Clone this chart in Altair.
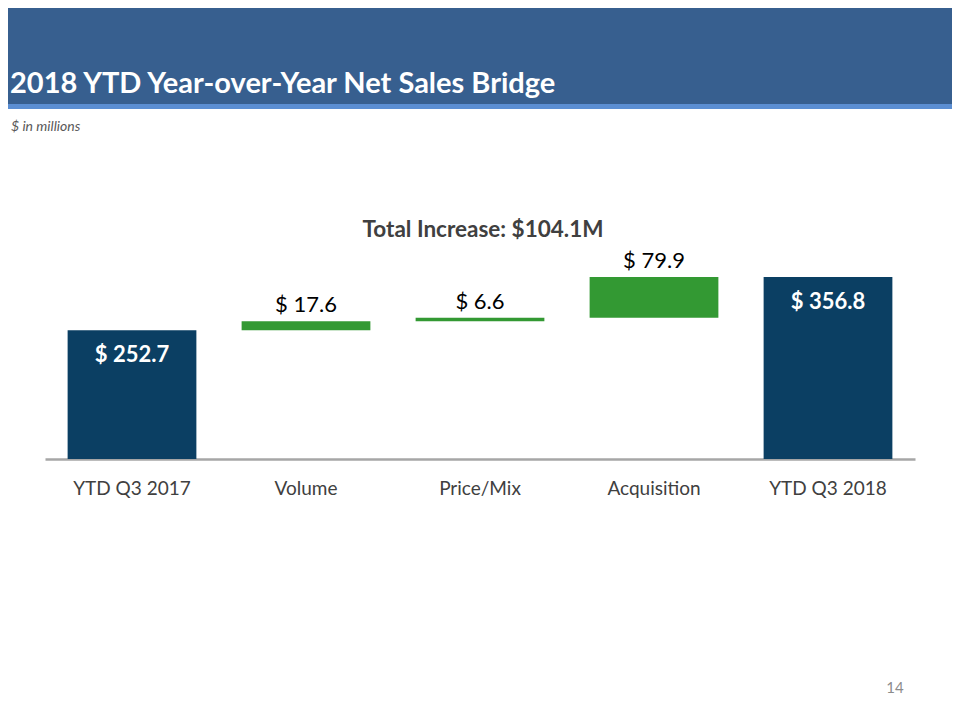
import altair as alt
import pandas as pd

# ---- data ----
categories = ["YTD Q3 2017", "Volume", "Price/Mix", "Acquisition", "YTD Q3 2018"]
amounts = [252.7, 17.6, 6.6, 79.9, 356.8]
kinds = ["total", "step", "step", "step", "total"]
labels = ["$ 252.7", "$ 17.6", "$ 6.6", "$ 79.9", "$ 356.8"]
title_text = "2018 YTD Year-over-Year Net Sales Bridge"
subtitle_text = "$ in millions"
increase_text = "Total Increase: $104.1M"
page_number = "14"

base_vals, top_vals = [], []
running = 0.0
for a, k in zip(amounts, kinds):
    if k == "total":
        base_vals.append(0.0)
        top_vals.append(a)
        running = a
    else:
        base_vals.append(running)
        running += a
        top_vals.append(running)

df = pd.DataFrame({"cat": categories, "base": base_vals, "top": top_vals,
                   "kind": kinds, "label": labels})

FONT = "Lato"
NAVY = "#0b3f63"
GREEN = "#339933"
HEADER = "#375f8f"
STRIPE = "#5b8ed2"

W, H = 870, 259
PAD = {"left": 37, "right": 37, "top": 192, "bottom": 253}

xenc = alt.X("cat:N", sort=categories,
             scale=alt.Scale(paddingInner=0.26, paddingOuter=0.13),
             axis=alt.Axis(title=None, ticks=False, domainColor="#a6a6a6",
                           domainWidth=2.5, labelFont=FONT, labelFontSize=19,
                           labelColor="#404040", labelPadding=20, labelAngle=0))
yscale = alt.Scale(domain=[0, 508], nice=False, zero=True)

base = alt.Chart(df)

bars = base.mark_bar().encode(
    x=xenc,
    y=alt.Y("base:Q", scale=yscale, axis=None),
    y2="top:Q",
    color=alt.Color("kind:N", scale=alt.Scale(domain=["total", "step"], range=[NAVY, GREEN]),
                    legend=None),
)

step_labels = base.transform_filter(alt.datum.kind == "step").mark_text(
    baseline="bottom", dy=-4, font=FONT, fontSize=22, color="#000000"
).encode(x=xenc, y=alt.Y("top:Q", scale=yscale, axis=None), text="label:N")

total_labels = base.transform_filter(alt.datum.kind == "total").mark_text(
    baseline="middle", dy=25, font=FONT, fontSize=22, fontWeight="bold", color="#ffffff"
).encode(x=xenc, y=alt.Y("top:Q", scale=yscale, axis=None), text="label:N")

inc_df = pd.DataFrame({"cat": ["Price/Mix"], "v": [449.0], "t": [increase_text]})
increase = alt.Chart(inc_df).mark_text(
    baseline="middle", font=FONT, fontSize=22.5, fontWeight="bold", color="#404040", dx=3
).encode(x=xenc, y=alt.Y("v:Q", scale=yscale, axis=None), text="t:N")

one = pd.DataFrame({"k": [0]})
header = alt.Chart(one).mark_rect(color=HEADER).encode(
    x=alt.value(-37), x2=alt.value(W + 37), y=alt.value(-192), y2=alt.value(-96))
stripe = alt.Chart(one).mark_rect(color=STRIPE).encode(
    x=alt.value(-37), x2=alt.value(W + 37), y=alt.value(-96), y2=alt.value(-91))
title = alt.Chart(one).mark_text(
    align="left", baseline="alphabetic", font=FONT, fontSize=29, fontWeight="bold",
    color="#ffffff").encode(x=alt.value(-35), y=alt.value(-107), text=alt.value(title_text))
subtitle = alt.Chart(one).mark_text(
    align="left", baseline="alphabetic", font=FONT, fontSize=14, fontStyle="italic",
    color="#595959").encode(x=alt.value(-34), y=alt.value(-69), text=alt.value(subtitle_text))
pnum = alt.Chart(one).mark_text(
    align="center", baseline="middle", font=FONT, fontSize=15, color="#8c8c8c"
).encode(x=alt.value(850), y=alt.value(488), text=alt.value(page_number))

chart = alt.layer(header, stripe, title, subtitle, bars, step_labels, total_labels,
                  increase, pnum).properties(
    width=W, height=H, padding=PAD,
    autosize=alt.AutoSizeParams(type="none"),
    background="#ffffff",
).configure_view(strokeWidth=0)

chart.save("out.html", embed_options={"renderer": "svg", "actions": False})
